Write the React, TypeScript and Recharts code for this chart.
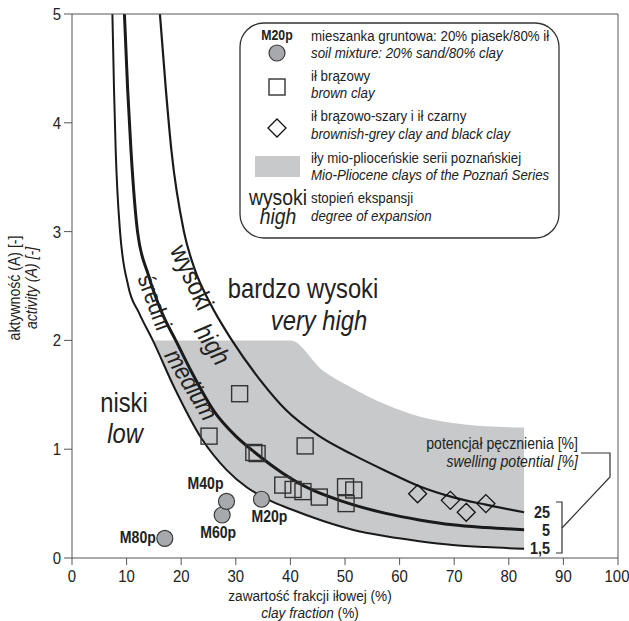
import React from "react";
import { ComposedChart, Line, Area, Scatter, XAxis, YAxis, LabelList } from "recharts";

const FONT = "'Liberation Sans', Arial, sans-serif";
const SX = 0.88; // horizontal squeeze to imitate a condensed face

// axis ticks
const xTicks = [0, 10, 20, 30, 40, 50, 60, 70, 80, 90, 100];
const yTicks = [0, 1, 2, 3, 4, 5];

// swelling potential curves: x = clay fraction (%), a = activity
const curve15 = [
  { x: 7.4, a: 5 }, { x: 7.7, a: 4.3 }, { x: 8.0, a: 3.75 }, { x: 8.8, a: 3.0 },
  { x: 10.3, a: 2.5 }, { x: 12.3, a: 2.25 }, { x: 14.8, a: 2.0 }, { x: 18.8, a: 1.56 },
  { x: 23.7, a: 1.1 }, { x: 28.3, a: 0.81 }, { x: 32, a: 0.65 }, { x: 36.2, a: 0.53 },
  { x: 40, a: 0.45 }, { x: 46, a: 0.34 }, { x: 51.4, a: 0.26 }, { x: 57.5, a: 0.2 },
  { x: 63.6, a: 0.155 }, { x: 69.7, a: 0.12 }, { x: 75.8, a: 0.1 }, { x: 82.8, a: 0.085 },
];
const curve5 = [
  { x: 9.6, a: 5 }, { x: 10.2, a: 4.3 }, { x: 10.8, a: 3.75 }, { x: 12, a: 3.0 },
  { x: 14, a: 2.6 }, { x: 16.5, a: 2.25 }, { x: 19, a: 2.0 }, { x: 22, a: 1.7 },
  { x: 26, a: 1.35 }, { x: 30, a: 1.12 }, { x: 33.5, a: 0.97 }, { x: 38.6, a: 0.78 },
  { x: 43.8, a: 0.63 }, { x: 49, a: 0.53 }, { x: 57.5, a: 0.41 }, { x: 63.6, a: 0.35 },
  { x: 69.7, a: 0.305 }, { x: 75.8, a: 0.28 }, { x: 82.8, a: 0.26 },
];
const curve25 = [
  { x: 16.1, a: 5 }, { x: 17.2, a: 4.3 }, { x: 18.2, a: 3.75 }, { x: 20.5, a: 3.0 },
  { x: 22.5, a: 2.65 }, { x: 25.2, a: 2.35 }, { x: 29.3, a: 2.0 }, { x: 34.4, a: 1.64 },
  { x: 39.2, a: 1.36 }, { x: 45.3, a: 1.12 }, { x: 51.4, a: 0.95 }, { x: 57.5, a: 0.8 },
  { x: 63.6, a: 0.66 }, { x: 69.7, a: 0.56 }, { x: 75.8, a: 0.49 }, { x: 82.8, a: 0.42 },
];

// Mio-Pliocene clays of the Poznań Series (shaded band)
const bandX = [14.8, 18.8, 23.7, 28.3, 32, 36.2, 40, 46, 51.4, 57.5, 63.6, 69.7, 75.8, 82.8];
const bandLow = [2.0, 1.56, 1.1, 0.81, 0.65, 0.53, 0.45, 0.34, 0.26, 0.2, 0.155, 0.12, 0.1, 0.075];
const bandHigh = [2.0, 2.0, 2.0, 2.0, 2.0, 2.0, 2.0, 1.72, 1.56, 1.41, 1.3, 1.24, 1.21, 1.2];
const band = bandX.map((x, i) => ({ x, range: [bandLow[i], bandHigh[i]] }));

// samples
const mixtures = [
  { name: "M80p", x: 17.0, a: 0.18 },
  { name: "M60p", x: 27.5, a: 0.395 },
  { name: "M40p", x: 28.3, a: 0.52 },
  { name: "M20p", x: 34.7, a: 0.54 },
];
const brownClay = [
  { x: 25.1, a: 1.12 }, { x: 30.7, a: 1.51 }, { x: 33.3, a: 0.97 }, { x: 33.9, a: 0.96 },
  { x: 42.7, a: 1.03 }, { x: 38.6, a: 0.67 }, { x: 40.5, a: 0.63 }, { x: 42.3, a: 0.61 },
  { x: 45.3, a: 0.56 }, { x: 50.1, a: 0.655 }, { x: 51.6, a: 0.625 }, { x: 50.2, a: 0.5 },
];
const greyBlackClay = [
  { x: 63.3, a: 0.59 }, { x: 69.3, a: 0.53 }, { x: 72.2, a: 0.42 }, { x: 75.8, a: 0.5 },
];

const mixLabelPos: Record<string, { dx: number; dy: number; anchor: string }> = {
  M80p: { dx: -9, dy: 5, anchor: "end" },
  M60p: { dx: -4, dy: 23, anchor: "middle" },
  M40p: { dx: -21, dy: -12, anchor: "middle" },
  M20p: { dx: 8, dy: 23, anchor: "middle" },
};

const GRAY = "#c8c9cb";
const AXIS = "#555";

type TP = {
  x: number; y: number; size: number; anchor?: string; italic?: boolean; bold?: boolean;
  rot?: number; sx?: number; children?: React.ReactNode;
};
const T = ({ x, y, size, anchor = "start", italic, bold, rot = 0, sx = SX, children }: TP) => (
  <text
    transform={`translate(${x},${y}) rotate(${rot}) scale(${sx},1)`}
    fontSize={size}
    textAnchor={anchor as any}
    fontStyle={italic ? "italic" : undefined}
    fontWeight={bold ? "bold" : undefined}
    fontFamily={FONT}
    fill="#222"
  >
    {children}
  </text>
);

const XTick = (p: any) => (
  <T x={p.x} y={p.y + 15} size={17} anchor="middle">{p.payload.value}</T>
);
const YTick = (p: any) => (
  <T x={p.x} y={p.y + 6} size={17} anchor="end">{p.payload.value}</T>
);

const circleShape = (p: any) => (
  <circle cx={p.cx} cy={p.cy} r={8} fill="#a7a9ac" stroke="#3a3a3a" strokeWidth={1.2} />
);
const squareShape = (p: any) => (
  <rect x={p.cx - 8} y={p.cy - 8} width={16} height={16} fill="none" stroke="#333" strokeWidth={1.4} />
);
const diamondShape = (p: any) => (
  <polygon
    points={`${p.cx},${p.cy - 9} ${p.cx + 9},${p.cy} ${p.cx},${p.cy + 9} ${p.cx - 9},${p.cy}`}
    fill="none"
    stroke="#111"
    strokeWidth={1.3}
  />
);

const MixLabel = (p: any) => {
  const pos = mixLabelPos[p.value];
  if (!pos) return null;
  return (
    <T x={p.x + p.width / 2 + pos.dx} y={p.y + p.height / 2 + pos.dy} size={16} bold anchor={pos.anchor}>
      {p.value}
    </T>
  );
};

const Overlay = () => (
  <svg width={629} height={621} style={{ position: "absolute", left: 0, top: 0, pointerEvents: "none" }}>
    {/* axis titles */}
    <T x={20} y={288} size={16} anchor="middle" rot={-90}>aktywność (A) [-]</T>
    <T x={37} y={288} size={16} anchor="middle" rot={-90} italic>activity (A) [-]</T>
    <T x={310} y={601} size={15.5} anchor="middle">zawartość frakcji iłowej (%)</T>
    <T x={310} y={618} size={15.5} anchor="middle">
      <tspan fontStyle="italic">clay fraction</tspan> (%)
    </T>

    {/* expansion classes */}
    <T x={303} y={298} size={27} anchor="middle">bardzo wysoki</T>
    <T x={319} y={330} size={27} anchor="middle" italic>very high</T>
    <T x={124} y={412} size={27} anchor="middle">niski</T>
    <T x={125} y={443} size={27} anchor="middle" italic>low</T>
    <T x={184} y={281} size={26} anchor="middle" rot={65}>wysoki</T>
    <T x={205} y={349} size={26} anchor="middle" rot={57} italic>high</T>
    <T x={147} y={305} size={24} anchor="middle" rot={70}>średni</T>
    <T x={184} y={389} size={25} anchor="middle" rot={59} italic>medium</T>

    {/* swelling potential */}
    <T x={578} y={449} size={16} anchor="end">potencjał pęcznienia [%]</T>
    <T x={578} y={467} size={16} anchor="end" italic>swelling potential [%]</T>
    <polyline points="581,453 610,453 610,477 562,528" fill="none" stroke="#333" strokeWidth={1.2} />
    <polyline points="556,502 562,502 562,553 556,553" fill="none" stroke="#333" strokeWidth={1.2} />
    <T x={550} y={518} size={16} bold anchor="end" sx={0.9}>25</T>
    <T x={550} y={536} size={16} bold anchor="end" sx={0.9}>5</T>
    <T x={550} y={554} size={16} bold anchor="end" sx={0.9}>1,5</T>

    {/* legend box */}
    <rect x={240} y={23} width={319} height={215} rx={24} fill="#fff" stroke="#333" strokeWidth={1.3} />
    <T x={277} y={40} size={14} bold anchor="middle">M20p</T>
    <circle cx={277} cy={53} r={8} fill="#a7a9ac" stroke="#3a3a3a" strokeWidth={1.2} />
    <rect x={269} y={79} width={16} height={16} fill="none" stroke="#333" strokeWidth={1.4} />
    <polygon points="277,119 286,128 277,137 268,128" fill="none" stroke="#111" strokeWidth={1.3} />
    <rect x={255} y={156} width={45} height={21} fill={GRAY} />
    <T x={278} y={205} size={22} anchor="middle">wysoki</T>
    <T x={278} y={224} size={22} anchor="middle" italic>high</T>

    <T x={311} y={41} size={15.5} sx={0.86}>mieszanka gruntowa: 20% piasek/80% ił</T>
    <T x={311} y={58} size={15.5} sx={0.86} italic>soil mixture: 20% sand/80% clay</T>
    <T x={311} y={81} size={15.5} sx={0.86}>ił brązowy</T>
    <T x={311} y={98} size={15.5} sx={0.86} italic>brown clay</T>
    <T x={311} y={121} size={15.5} sx={0.86}>ił brązowo-szary i ił czarny</T>
    <T x={311} y={139} size={15.5} sx={0.86} italic>brownish-grey clay and black clay</T>
    <T x={311} y={163} size={15.5} sx={0.86}>iły mio-plioceńskie serii poznańskiej</T>
    <T x={311} y={180} size={15.5} sx={0.86} italic>Mio-Pliocene clays of the Poznań Series</T>
    <T x={311} y={203} size={15.5} sx={0.86}>stopień ekspansji</T>
    <T x={311} y={221} size={15.5} sx={0.86} italic>degree of expansion</T>
  </svg>
);

export default function App() {
  return (
    <div style={{ position: "absolute", left: 0, top: 0, width: 629, height: 621, background: "#fff" }}>
      <ComposedChart width={629} height={621} margin={{ top: 0, right: 0, bottom: 0, left: 0 }}>
        <XAxis
          dataKey="x"
          type="number"
          domain={[0, 100]}
          ticks={xTicks}
          height={63}
          tickSize={7}
          tickMargin={2}
          tick={XTick}
          stroke={AXIS}
          allowDataOverflow
        />
        <XAxis
          xAxisId="top"
          orientation="top"
          type="number"
          domain={[0, 100]}
          ticks={xTicks}
          height={14}
          tickSize={7}
          tick={false}
          stroke={AXIS}
        />
        <YAxis
          dataKey="a"
          type="number"
          domain={[0, 5]}
          ticks={yTicks}
          width={72}
          tickSize={8}
          tickMargin={3}
          tick={YTick}
          stroke={AXIS}
          allowDataOverflow
        />
        <YAxis
          yAxisId="right"
          orientation="right"
          type="number"
          domain={[0, 5]}
          ticks={yTicks}
          width={11}
          tickSize={7}
          tick={false}
          stroke={AXIS}
        />
        <Area
          data={band}
          dataKey="range"
          type="monotone"
          fill={GRAY}
          fillOpacity={1}
          stroke="none"
          isAnimationActive={false}
        />
        <Line data={curve15} dataKey="a" type="monotone" stroke="#1a1a1a" strokeWidth={2} dot={false} activeDot={false} isAnimationActive={false} />
        <Line data={curve5} dataKey="a" type="monotone" stroke="#1a1a1a" strokeWidth={3} dot={false} activeDot={false} isAnimationActive={false} />
        <Line data={curve25} dataKey="a" type="monotone" stroke="#1a1a1a" strokeWidth={2.2} dot={false} activeDot={false} isAnimationActive={false} />
        <Scatter data={brownClay} dataKey="a" shape={squareShape} isAnimationActive={false} />
        <Scatter data={greyBlackClay} dataKey="a" shape={diamondShape} isAnimationActive={false} />
        <Scatter data={mixtures} dataKey="a" shape={circleShape} isAnimationActive={false}>
          <LabelList dataKey="name" content={MixLabel} />
        </Scatter>
      </ComposedChart>
      <Overlay />
    </div>
  );
}
